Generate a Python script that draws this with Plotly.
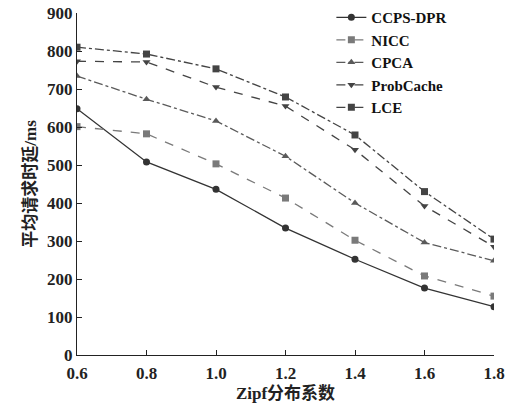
import plotly.graph_objects as go

x = [0.6, 0.8, 1.0, 1.2, 1.4, 1.6, 1.8]
ccps_dpr = [648, 508, 436, 334, 252, 176, 127]
nicc = [601, 582, 503, 413, 302, 208, 155]
cpca = [734, 673, 616, 523, 400, 296, 248]
probcache = [773, 771, 705, 655, 540, 392, 285]
lce = [810, 792, 753, 679, 579, 430, 305]

series = [
    ("CCPS-DPR", ccps_dpr, "#333333", "solid", "circle"),
    ("NICC", nicc, "#7a7a7a", "dash", "square"),
    ("CPCA", cpca, "#5a5a5a", "dashdot", "triangle-up"),
    ("ProbCache", probcache, "#444444", "dash", "triangle-down"),
    ("LCE", lce, "#444444", "dashdot", "square"),
]

fig = go.Figure()
for name, ys, col, dash, sym in series:
    fig.add_trace(go.Scatter(
        x=x, y=ys, name=name, mode="lines+markers",
        line=dict(color=col, width=1.3, dash=dash),
        marker=dict(symbol=sym, size=7, color=col),
    ))

font_fam = "Liberation Serif, Noto Sans CJK SC, serif"
fig.update_layout(
    width=519, height=409,
    margin=dict(l=77, r=25, t=13, b=54, autoexpand=False),
    paper_bgcolor="white", plot_bgcolor="white",
    font=dict(family=font_fam, color="#222222", size=17),
    showlegend=True,
    legend=dict(x=0.61, y=1.035, xanchor="left", yanchor="top",
                font=dict(family=font_fam, size=15, color="#111111", weight="bold"),
                bgcolor="rgba(0,0,0,0)", tracegroupgap=0, itemwidth=30),
    xaxis=dict(range=[0.6, 1.8], tickvals=x, ticktext=["0.6", "0.8", "1.0", "1.2", "1.4", "1.6", "1.8"],
               showline=True, linecolor="#222222", linewidth=1.3,
               ticks="inside", ticklen=5, tickcolor="#222222", showgrid=False, zeroline=False,
               tickfont=dict(size=17, family=font_fam, weight="bold"), ticklabelstandoff=2,
               title=dict(text="<b>Zipf分布系数</b>", font=dict(size=17, family=font_fam), standoff=4)),
    yaxis=dict(range=[0, 900], dtick=100,
               showline=True, linecolor="#222222", linewidth=1.3,
               ticks="inside", ticklen=5, tickcolor="#222222", showgrid=False, zeroline=False,
               tickfont=dict(size=17, family=font_fam, weight="bold"),
               title=dict(text="<b>平均请求时延/ms</b>", font=dict(size=17, family=font_fam), standoff=6)),
)
fig.write_html("out.html")
